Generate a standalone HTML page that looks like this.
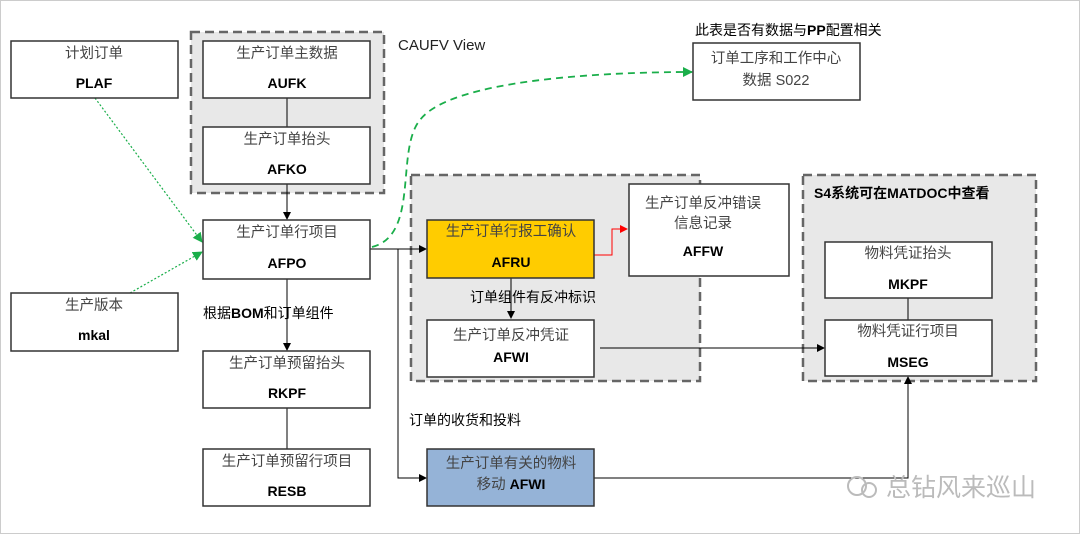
<!DOCTYPE html>
<html><head><meta charset="utf-8"><style>
body{margin:0;background:#fff;}
svg text{font-family:"Liberation Sans","Noto Sans CJK SC",sans-serif;}
.cn{font-size:14.5px;fill:#444;}
.en{font-size:14px;font-weight:bold;fill:#000;}
</style></head><body>
<svg width="1080" height="534" viewBox="0 0 1080 534" xmlns="http://www.w3.org/2000/svg">
<defs>
<marker id="a" markerWidth="8" markerHeight="8" refX="7" refY="4" orient="auto" markerUnits="userSpaceOnUse"><path d="M0,0 L8,4 L0,8z" fill="#000"/></marker>
<marker id="r" markerWidth="8" markerHeight="8" refX="7" refY="4" orient="auto" markerUnits="userSpaceOnUse"><path d="M0,0 L8,4 L0,8z" fill="#f00"/></marker>
<marker id="g" markerWidth="10" markerHeight="10" refX="9" refY="5" orient="auto" markerUnits="userSpaceOnUse"><path d="M0,0 L10,5 L0,10z" fill="#1aae4a"/></marker>
</defs>
<rect x="0.5" y="0.5" width="1079" height="533" fill="none" stroke="#ccc"/>
<rect x="191" y="32" width="193" height="161" fill="#e8e8e8" stroke="#666" stroke-width="2.5" stroke-dasharray="9,5"/>
<rect x="411" y="175" width="289" height="206" fill="#e8e8e8" stroke="#666" stroke-width="2.5" stroke-dasharray="9,5"/>
<rect x="803" y="175" width="233" height="206" fill="#e8e8e8" stroke="#666" stroke-width="2.5" stroke-dasharray="9,5"/>
<g stroke="#000" stroke-width="1" fill="none">
<line x1="287" y1="98" x2="287" y2="127"/>
<line x1="287" y1="184" x2="287" y2="219" marker-end="url(#a)"/>
<line x1="287" y1="279" x2="287" y2="350" marker-end="url(#a)"/>
<line x1="287" y1="408" x2="287" y2="449"/>
<line x1="370" y1="249" x2="426" y2="249" marker-end="url(#a)"/>
<polyline points="398,249 398,478 426,478" marker-end="url(#a)"/>
<line x1="511" y1="278" x2="511" y2="318" marker-end="url(#a)"/>
<line x1="600" y1="348" x2="824" y2="348" marker-end="url(#a)"/>
<polyline points="594,478 908,478 908,377" marker-end="url(#a)"/>
<line x1="908" y1="298" x2="908" y2="320"/>
<polyline points="594,255 612,255 612,229 627,229" stroke="#f00" marker-end="url(#r)"/>
</g>
<g stroke="#1aae4a" stroke-width="1.2" fill="none">
<line x1="95" y1="98" x2="202" y2="242" stroke-dasharray="2,2" marker-end="url(#g)"/>
<line x1="130" y1="293" x2="202" y2="252" stroke-dasharray="2,2" marker-end="url(#g)"/>
<path d="M372,247 C420,235 395,150 420,120 C450,80 600,72 692,72" stroke-width="1.8" stroke-dasharray="7,5" marker-end="url(#g)"/>
</g>
<g stroke="#333" stroke-width="1.5">
<rect x="11" y="41" width="167" height="57" fill="#fff"/>
<rect x="203" y="41" width="167" height="57" fill="#fff"/>
<rect x="203" y="127" width="167" height="57" fill="#fff"/>
<rect x="203" y="220" width="167" height="59" fill="#fff"/>
<rect x="11" y="293" width="167" height="58" fill="#fff"/>
<rect x="203" y="351" width="167" height="57" fill="#fff"/>
<rect x="203" y="449" width="167" height="57" fill="#fff"/>
<rect x="693" y="43" width="167" height="57" fill="#fff"/>
<rect x="427" y="220" width="167" height="58" fill="#ffcc00"/>
<rect x="629" y="184" width="160" height="92" fill="#fff"/>
<rect x="427" y="320" width="167" height="57" fill="#fff"/>
<rect x="825" y="242" width="167" height="56" fill="#fff"/>
<rect x="825" y="320" width="167" height="56" fill="#fff"/>
<rect x="427" y="449" width="167" height="57" fill="#95b3d7"/>
</g>
<g text-anchor="middle">
<text x="94" y="58" class="cn">计划订单</text><text x="94" y="88" class="en">PLAF</text>
<text x="287" y="58" class="cn">生产订单主数据</text><text x="287" y="88" class="en">AUFK</text>
<text x="287" y="144" class="cn">生产订单抬头</text><text x="287" y="174" class="en">AFKO</text>
<text x="287" y="237" class="cn">生产订单行项目</text><text x="287" y="268" class="en">AFPO</text>
<text x="94" y="310" class="cn">生产版本</text><text x="94" y="340" class="en">mkal</text>
<text x="287" y="368" class="cn">生产订单预留抬头</text><text x="287" y="398" class="en">RKPF</text>
<text x="287" y="466" class="cn">生产订单预留行项目</text><text x="287" y="496" class="en">RESB</text>
<text x="776" y="63" class="cn">订单工序和工作中心</text><text x="776" y="85" class="cn">数据  S022</text>
<text x="511" y="236" class="cn">生产订单行报工确认</text><text x="511" y="267" class="en">AFRU</text>
<text x="703" y="208" class="cn">生产订单反冲错误</text><text x="703" y="228" class="cn">信息记录</text><text x="703" y="256" class="en">AFFW</text>
<text x="511" y="340" class="cn">生产订单反冲凭证</text><text x="511" y="362" class="en">AFWI</text>
<text x="908" y="258" class="cn">物料凭证抬头</text><text x="908" y="289" class="en">MKPF</text>
<text x="908" y="336" class="cn">物料凭证行项目</text><text x="908" y="367" class="en">MSEG</text>
<text x="511" y="468" class="cn">生产订单有关的物料</text><text x="511" y="489" class="cn">移动   <tspan class="en">AFWI</tspan></text>
</g>
<text x="203" y="318" font-size="14" fill="#000">根据<tspan font-weight="bold">BOM</tspan>和订单组件</text>
<text x="409" y="425" font-size="14" fill="#000">订单的收货和投料</text>
<text x="470" y="302" font-size="14" fill="#000">订单组件有反冲标识</text>
<text x="398" y="50" font-size="15" fill="#222">CAUFV View</text>
<text x="695" y="35" font-size="14" fill="#000">此表是否有数据与<tspan font-weight="bold">PP</tspan>配置相关</text>
<text x="814" y="198" font-size="14" font-weight="bold" fill="#000">S4系统可在MATDOC中查看</text>
<text x="886" y="496" font-size="25" fill="#bbb">总钻风来巡山</text>
<circle cx="857" cy="486" r="9" fill="none" stroke="#bbb" stroke-width="2"/>
<circle cx="869" cy="490" r="7" fill="none" stroke="#bbb" stroke-width="2"/>
</svg>
</body></html>
